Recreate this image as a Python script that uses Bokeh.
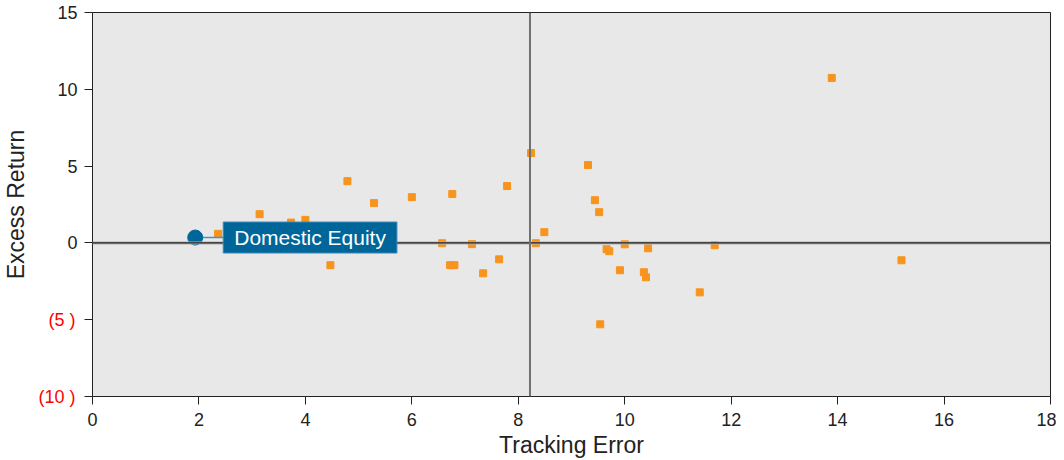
from bokeh.plotting import figure
from bokeh.models import Range1d, Span, Label, FixedTicker, LinearAxis
from bokeh.embed import file_html
from bokeh.resources import INLINE

# Data
peer_te = [2.36, 3.14, 3.73, 4.00, 4.79, 5.29, 6.00, 6.76, 4.47, 6.57, 7.13, 6.72, 6.80,
           8.24, 9.31, 7.79, 9.44, 9.52, 8.49, 8.33, 9.66, 9.71, 10.00, 10.44, 11.69,
           7.64, 7.34, 9.91, 10.36, 10.40, 11.41, 9.54, 13.89, 15.20]
peer_er = [0.59, 1.87, 1.32, 1.50, 4.02, 2.59, 2.98, 3.18, -1.45, -0.02, -0.08, -1.45, -1.45,
           5.85, 5.07, 3.70, 2.78, 2.00, 0.70, -0.02, -0.41, -0.54, -0.09, -0.35, -0.15,
           -1.07, -1.98, -1.78, -1.91, -2.24, -3.22, -5.30, 10.74, -1.13]
fund_name = "Domestic Equity"
fund_te = [1.93]
fund_er = [0.35]
median_te = 8.22

x_ticks = [0, 2, 4, 6, 8, 10, 12, 14, 16, 18]
y_ticks = [-10, -5, 0, 5, 10, 15]
y_tick_labels = ["(10 )", "(5 )", "0", "5", "10", "15"]

FONT = "Liberation Sans"

p = figure(width=1056, height=460, output_backend="svg", toolbar_location=None,
           x_range=Range1d(0, 18), y_range=Range1d(-10, 15),
           min_border_left=91, min_border_right=6, min_border_top=12, min_border_bottom=64)
p.background_fill_color = "#e8e8e8"
p.border_fill_color = "white"
p.outline_line_color = "#222222"
p.outline_line_width = 1
p.grid.visible = False

neg_ticks = [t for t in y_ticks if t < 0]
pos_labels = {t: lab for t, lab in zip(y_ticks, y_tick_labels) if t >= 0}
neg_labels = {t: lab for t, lab in zip(y_ticks, y_tick_labels) if t < 0}

p.xaxis.ticker = FixedTicker(ticks=x_ticks)
p.yaxis.ticker = FixedTicker(ticks=y_ticks)
p.yaxis.major_label_overrides = {**pos_labels, **{t: "" for t in neg_ticks}}


def style_axis(ax):
    ax.axis_line_color = "#222222"
    ax.major_tick_line_color = "#222222"
    ax.major_tick_in = 0
    ax.major_tick_out = 8
    ax.minor_tick_line_color = None
    ax.major_label_text_font = FONT
    ax.major_label_text_font_size = "18px"
    ax.major_label_text_color = "#222222"
    ax.axis_label_text_font = FONT
    ax.axis_label_text_font_size = "23px"
    ax.axis_label_text_font_style = "normal"
    ax.axis_label_text_color = "#222222"


style_axis(p.xaxis[0])
style_axis(p.yaxis[0])
p.xaxis.axis_label = "Tracking Error"
p.xaxis.major_label_standoff = 8
p.xaxis.axis_label_standoff = 3
p.yaxis.major_label_standoff = 7

# outer left axis carrying the red negative labels and the axis title;
# a negative standoff pulls its labels back in line with the inner ones
neg_axis = LinearAxis(ticker=FixedTicker(ticks=neg_ticks))
style_axis(neg_axis)
neg_axis.major_label_overrides = neg_labels
neg_axis.major_label_text_color = "red"
neg_axis.axis_line_color = None
neg_axis.major_tick_line_color = None
neg_axis.major_tick_out = 0
neg_axis.major_label_standoff = -21
neg_axis.axis_label = "Excess Return"
neg_axis.axis_label_standoff = 6
p.add_layout(neg_axis, "left")

# reference lines
p.add_layout(Span(location=0, dimension="width", line_color="#b0b0b0", line_width=3))
p.add_layout(Span(location=0, dimension="width", line_color="#222222", line_width=1.2))
p.add_layout(Span(location=median_te, dimension="height", line_color="#707070", line_width=2))

p.scatter(peer_te, peer_er, marker="square", size=7, fill_color="#f7941d",
          line_color="#f7941d")

# fund point with callout
p.ray(x=fund_te, y=fund_er, length=28, length_units="screen", angle=0,
      line_color="#4a90c0", line_width=1.5)
p.scatter(fund_te, fund_er, marker="circle", size=15, fill_color="#006699",
          line_color="#006699")
p.add_layout(Label(x=fund_te[0], y=fund_er[0], x_offset=28, text=fund_name,
                   text_baseline="middle", text_align="left", text_color="white",
                   text_font=FONT, text_font_size="21px",
                   background_fill_color="#006699",
                   padding=dict(left=11, right=11, top=4, bottom=4),
                   border_line_color="#3f88b8", border_line_width=1))

open("out.html", "w").write(file_html(p, INLINE))
